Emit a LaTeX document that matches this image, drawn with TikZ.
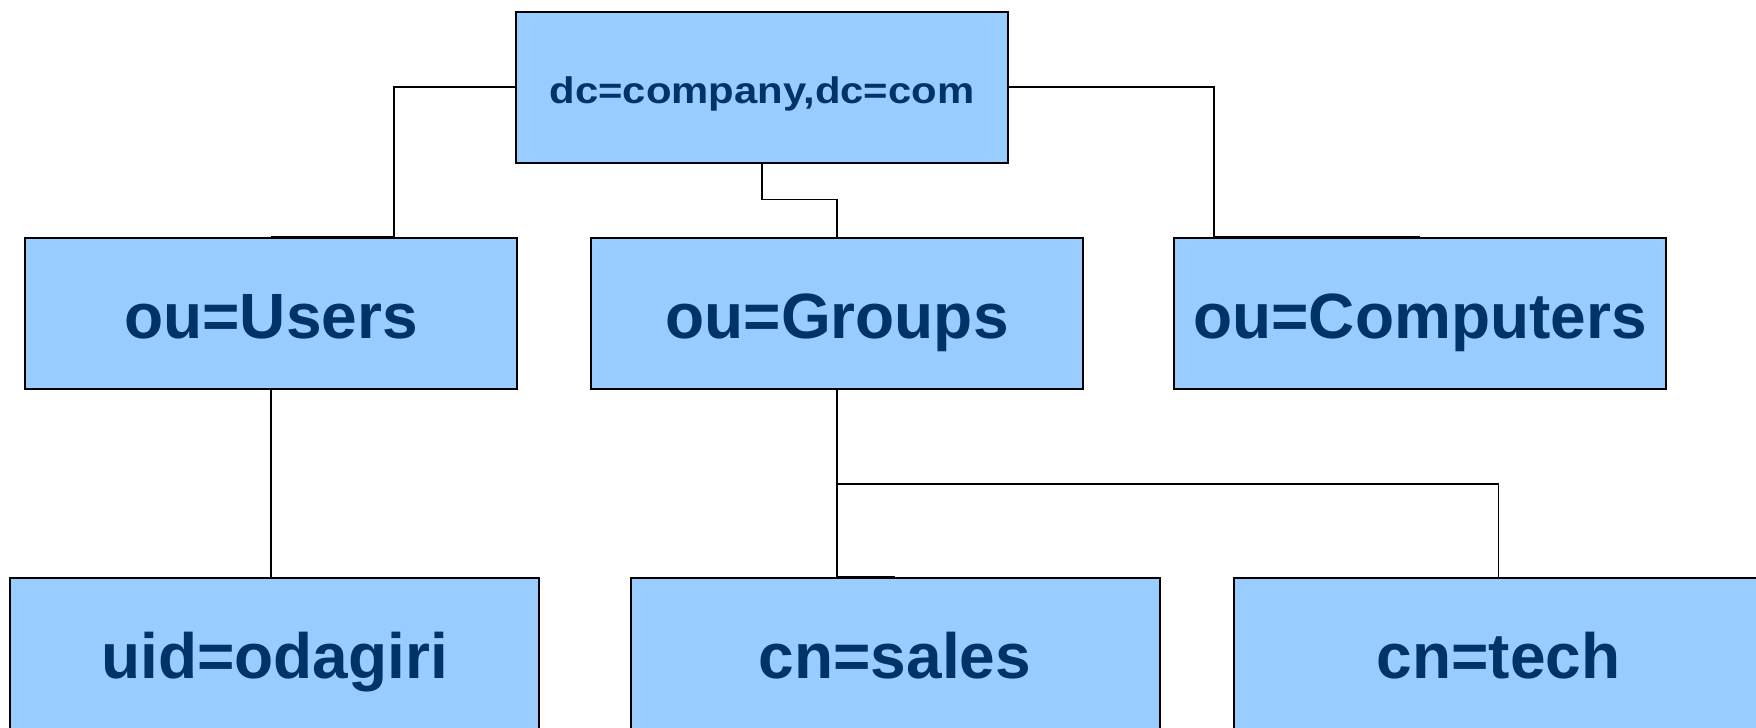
\documentclass[tikz,border=0pt]{standalone}
\usepackage{fontspec}
\setmainfont{Liberation Sans}
\newfontfamily\rootfont[FakeStretch=1.13]{Liberation Sans}

\definecolor{entryfill}{RGB}{153,204,255}
\definecolor{entrytext}{RGB}{0,51,102}

\tikzset{every picture/.style={line width=0.75pt}}
\tikzset{
  entry/.style={draw, fill=entryfill, text=entrytext, line width=1.5pt, inner sep=0pt,
    minimum width=369pt, minimum height=113.25pt, text height=37pt, text depth=0pt,
    font=\bfseries\fontsize{48}{56}\selectfont},
  leaf/.style={entry, minimum width=396.75pt},
  rootentry/.style={entry, text height=24.5pt, font=\rootfont\bfseries\fontsize{27.75}{33}\selectfont},
  link/.style={line width=0.9pt}
}

\begin{document}
\begin{tikzpicture}[x=0.75pt,y=0.75pt,yscale=-1,xscale=1]
	\clip (0,0) rectangle (1756,728);

	%Shape: Rectangle
	\node[rootentry] (root) at (762,87) {dc=company,dc=com};
	%Shape: Rectangle
	\node[entry] (users) at (271,313.5) {ou=Users};
	%Shape: Rectangle
	\node[entry] (groups) at (837,313.5) {ou=Groups};
	%Shape: Rectangle
	\node[entry] (computers) at (1420,313.5) {ou=Computers};
	%Shape: Rectangle
	\node[leaf] (uid) at (274.5,653.5) {uid=odagiri};
	%Shape: Rectangle
	\node[leaf] (sales) at (895,653.5) {cn=sales};
	%Shape: Rectangle
	\node[leaf] (tech) at (1498.5,653.5) {cn=tech};

	%Straight Lines
	\draw[link] (root.west) -| ([xshift=92.25pt]users.north) -- (users.north);
	\draw[link] (root.south) -- ++(0,36) -| (groups.north);
	\draw[link] (root.east) -| ([xshift=-154.5pt]computers.north) -- (computers.north);
	\draw[link] (users.south) -- (users.south |- uid.north);
	\draw[link] (groups.south) -- ++(0,94) -| (tech.north);
	\draw[link] (groups.south) -- (groups.south |- sales.north) -- (sales.north);
\end{tikzpicture}
\end{document}
